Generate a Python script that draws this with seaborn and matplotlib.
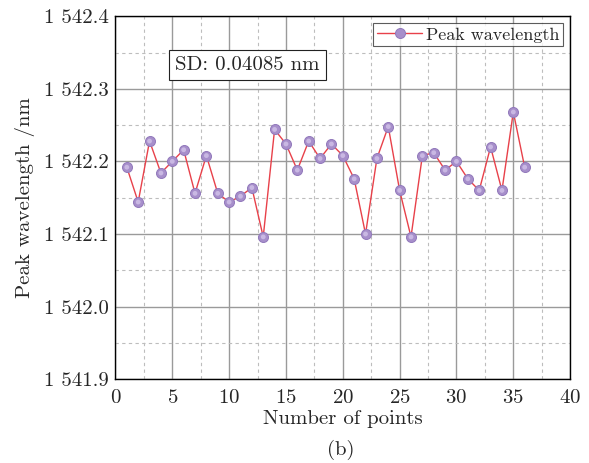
import numpy as np
import pandas as pd
import matplotlib
matplotlib.use("Agg")
import matplotlib.pyplot as plt
import seaborn as sns
from matplotlib.ticker import MultipleLocator, FixedLocator, FixedFormatter

points = list(range(1, 37))
wavelength = [1542.192, 1542.144, 1542.228, 1542.184, 1542.200, 1542.216, 1542.156, 1542.208,
              1542.156, 1542.144, 1542.152, 1542.164, 1542.096, 1542.244, 1542.224, 1542.188,
              1542.228, 1542.204, 1542.224, 1542.208, 1542.176, 1542.100, 1542.204, 1542.248,
              1542.160, 1542.096, 1542.208, 1542.212, 1542.188, 1542.200, 1542.176, 1542.160,
              1542.220, 1542.160, 1542.268, 1542.192]
ytick_vals = [1541.9, 1542.0, 1542.1, 1542.2, 1542.3, 1542.4]
ytick_labels = ["1 541.9", "1 542.0", "1 542.1", "1 542.2", "1 542.3", "1 542.4"]
xtick_vals = [0, 5, 10, 15, 20, 25, 30, 35, 40]

df = pd.DataFrame({"Number of points": points, "Peak wavelength": wavelength})

sns.set_style("white")
plt.rcParams["font.family"] = ["cmr10", "DejaVu Serif"]
plt.rcParams["axes.formatter.use_mathtext"] = True

fig = plt.figure(figsize=(5.89, 4.63), dpi=100)
ax = fig.add_axes([0.196, 0.181, 0.772, 0.784])

sns.lineplot(data=df, x="Number of points", y="Peak wavelength", ax=ax,
             color="#e8414a", linewidth=1.0, marker="o", markersize=7.2,
             markerfacecolor="#a78fcb", markeredgecolor="#9178bb", markeredgewidth=0.7,
             label="Peak wavelength", zorder=5)
# inner highlight for the shaded-ball look
sns.scatterplot(data=df, x="Number of points", y="Peak wavelength", ax=ax,
                s=12, color="#c9b8e3", edgecolor="none", zorder=6, legend=False)

ax.set_xlim(0, 40)
ax.set_ylim(1541.9, 1542.4)
ax.xaxis.set_major_locator(FixedLocator(xtick_vals))
ax.xaxis.set_minor_locator(MultipleLocator(2.5))
ax.yaxis.set_major_locator(FixedLocator(ytick_vals))
ax.yaxis.set_major_formatter(FixedFormatter(ytick_labels))
ax.yaxis.set_minor_locator(MultipleLocator(0.05))

ax.grid(which="major", color="#9a9a9a", linewidth=1.0, linestyle="-")
ax.grid(which="minor", color="#bdbdbd", linewidth=0.8, linestyle=(0, (3, 3)))
ax.tick_params(which="both", length=0, labelsize=15)
ax.tick_params(axis="y", pad=5)
ax.tick_params(axis="x", pad=7)
for s in ax.spines.values():
    s.set_color("black")
    s.set_linewidth(1.0)

ax.set_xlabel("Number of points", fontsize=15, labelpad=2)
ax.set_ylabel("Peak wavelength /nm", fontsize=15, labelpad=6)

leg = ax.legend(loc="upper right", fontsize=13, frameon=True, fancybox=False,
                edgecolor="#333333", borderpad=0.2, handlelength=2.5,
                handletextpad=0.2, borderaxespad=0.4)
leg.get_frame().set_linewidth(0.8)

ax.text(0.132, 0.865, "SD: 0.04085 nm", transform=ax.transAxes, fontsize=15,
        va="center", ha="left",
        bbox=dict(boxstyle="square,pad=0.3", facecolor="white", edgecolor="#222222", linewidth=0.8),
        zorder=7)

fig.text(0.579, 0.028, "(b)", fontsize=15, ha="center", va="center")

fig.savefig("out.png", dpi=100)
